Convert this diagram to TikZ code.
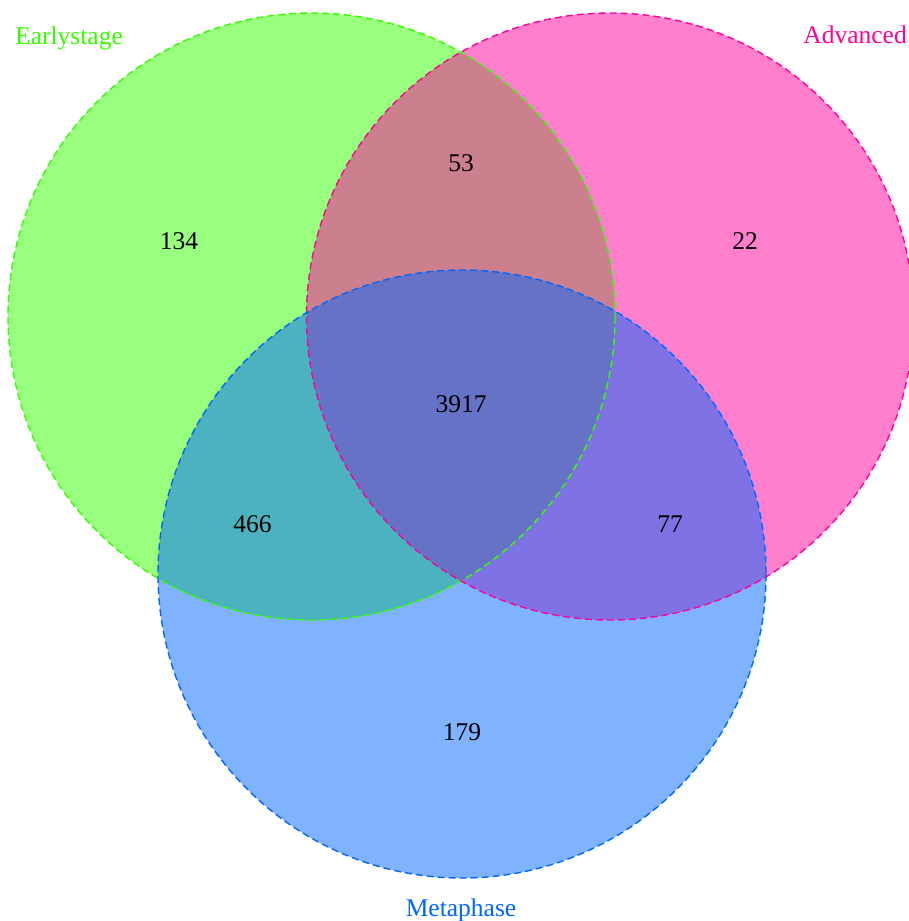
\documentclass[tikz,border=0pt]{standalone}
\usepackage{fontspec}
\setmainfont{Liberation Serif}
\definecolor{esc}{RGB}{51,255,0}
\definecolor{adc}{RGB}{255,0,153}
\definecolor{mpc}{RGB}{0,102,255}
\begin{document}
\begin{tikzpicture}[x=1pt,y=-1pt,
  vfill/.style={fill opacity=0.5},
  vborder/.style={line width=1.4pt,dash pattern=on 7pt off 4pt},
  num/.style={anchor=base,font=\fontsize{25.5}{30}\selectfont,text=black,inner sep=0pt},
  lbl/.style={font=\fontsize{25.5}{30}\selectfont,inner sep=0pt}]
\useasboundingbox (0,0) rectangle (909,921);
\begin{scope}
\clip (0,0) rectangle (909,921);
\fill[esc,vfill] (311.5,316.5) circle[radius=303.5];
\fill[adc,vfill] (610,316.5) circle[radius=303.5];
\fill[mpc,vfill] (462,574) circle[radius=304];
\draw[esc,vborder] (311.5,316.5) circle[radius=303.5];
\draw[adc,vborder] (610,316.5) circle[radius=303.5];
\draw[mpc,vborder] (462,574) circle[radius=304];
\end{scope}
\node[num] (n134) at (179,249) {134};
\node[num] (n53) at (461,171) {53};
\node[num] (n22) at (745,249) {22};
\node[num] (n3917) at (461,412) {3917};
\node[num] (n466) at (252.5,532) {466};
\node[num] (n77) at (670,532) {77};
\node[num] (n179) at (462,740) {179};
\node[lbl,text=esc,anchor=base west] (les) at (15,44) {Earlystage};
\node[lbl,text=adc,anchor=base east] (lad) at (907,43) {Advanced};
\node[lbl,text=mpc,anchor=base] (lmp) at (461,916) {Metaphase};
\end{tikzpicture}
\end{document}
